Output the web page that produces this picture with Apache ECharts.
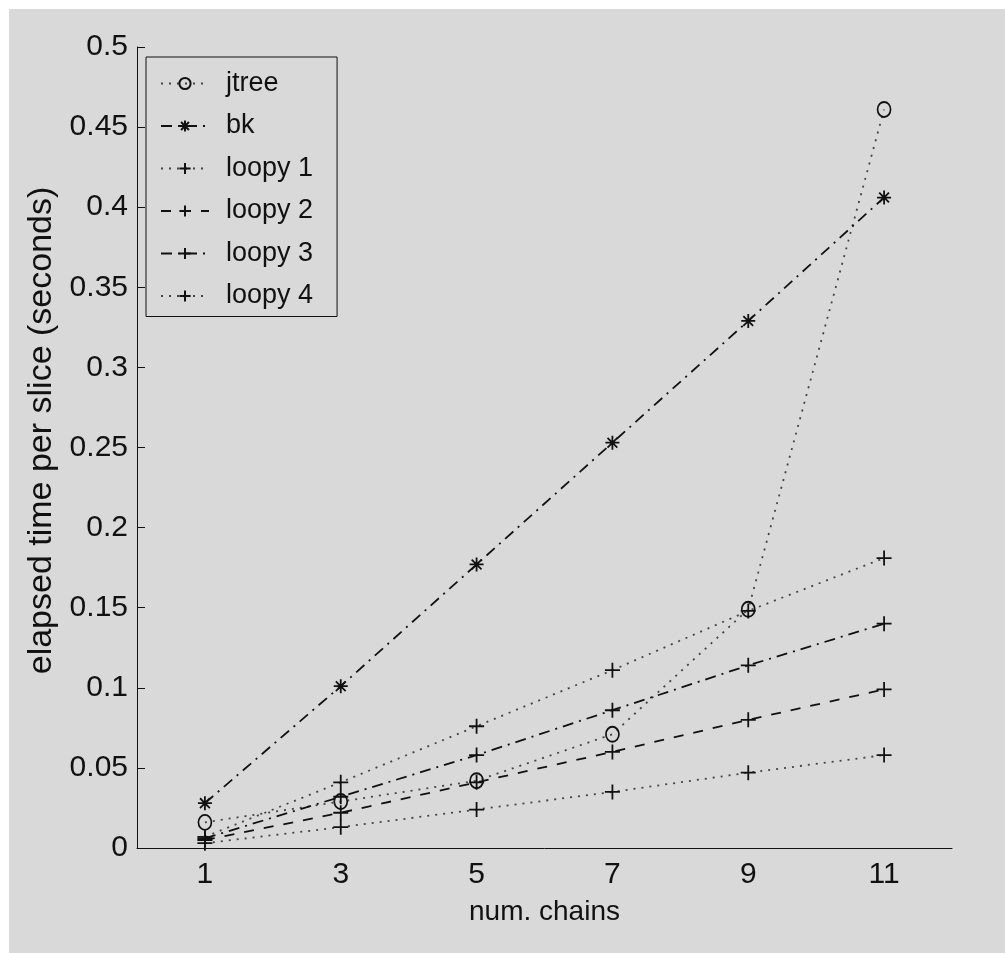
<!DOCTYPE html>
<html>
<head>
<meta charset="utf-8">
<script src="https://cdn.jsdelivr.net/npm/echarts@6/dist/echarts.min.js"></script>
<style>
  html, body { margin: 0; padding: 0; background: #fff; }
  #chart { position: absolute; left: 9px; top: 9px; width: 996px; height: 944px; }
</style>
</head>
<body>
<div id="chart"></div>
<script>
const chains = ['1', '3', '5', '7', '9', '11']
const jtree = [0.016, 0.029, 0.042, 0.071, 0.149, 0.461]
const bk = [0.028, 0.101, 0.177, 0.253, 0.329, 0.406]
const loopy1 = [0.007, 0.041, 0.076, 0.111, 0.148, 0.181]
const loopy2 = [0.005, 0.022, 0.041, 0.060, 0.080, 0.099]
const loopy3 = [0.006, 0.032, 0.058, 0.086, 0.114, 0.140]
const loopy4 = [0.003, 0.013, 0.024, 0.035, 0.047, 0.058]

const font = "'Liberation Sans', Arial, sans-serif"
const ink = '#111'
const dotted = [2, 6]
const dashed = [10, 10]
const dashDot = [11, 6, 2, 6]

const plus = 'path://M5,0L5,10M0,5L10,5'
const star = 'path://M5,0L5,10M0,5L10,5M1.5,1.5L8.5,8.5M8.5,1.5L1.5,8.5'

const line = (name, data, dash, symbol, size, lineColor) => ({
  name,
  type: 'line',
  data,
  symbol,
  symbolSize: size,
  lineStyle: { color: lineColor || ink, width: 1.8, type: dash },
  itemStyle: { color: 'none', borderColor: ink, borderWidth: 1.8 },
  emphasis: { disabled: true },
  animation: false
})

const chart = echarts.init(document.getElementById('chart'))
chart.setOption({
  backgroundColor: '#d9d9d9',
  textStyle: { fontFamily: font },
  grid: { left: 128, right: 53, top: 38, bottom: 105 },
  legend: {
    orient: 'vertical',
    left: 137,
    top: 48,
    padding: [13, 24, 7, 14],
    itemGap: 15.5,
    itemWidth: 48,
    itemHeight: 14,
    borderColor: ink,
    borderWidth: 1,
    textStyle: { color: ink, fontSize: 27, fontFamily: font, padding: [0, 0, 0, 12] },
    data: ['jtree', 'bk', 'loopy 1', 'loopy 2', 'loopy 3', 'loopy 4']
  },
  xAxis: {
    type: 'category',
    data: chains,
    boundaryGap: true,
    name: 'num. chains',
    nameLocation: 'middle',
    nameGap: 50,
    nameTextStyle: { color: ink, fontSize: 28, fontFamily: font },
    axisLine: { lineStyle: { color: ink, width: 1 } },
    axisTick: { inside: true, length: 8, alignWithLabel: true, lineStyle: { color: ink } },
    axisLabel: { color: ink, fontSize: 30, margin: 12, fontFamily: font },
    splitLine: { show: false }
  },
  yAxis: {
    type: 'value',
    min: 0,
    max: 0.5,
    interval: 0.05,
    name: 'elapsed time per slice (seconds)',
    nameLocation: 'middle',
    nameGap: 55,
    nameTextStyle: { color: ink, fontSize: 34, fontFamily: font, padding: [0, 0, 0, 34] },
    axisLine: { show: true, lineStyle: { color: ink, width: 1 } },
    axisTick: { show: true, inside: true, length: 8, lineStyle: { color: ink } },
    axisLabel: { color: ink, fontSize: 30, margin: 9, fontFamily: font },
    splitLine: { show: false }
  },
  series: [
    line('jtree', jtree, dotted, 'circle', [13, 15], '#444'),
    line('bk', bk, dashDot, star, 14),
    line('loopy 1', loopy1, dotted, plus, 15, '#444'),
    line('loopy 2', loopy2, dashed, plus, 15),
    line('loopy 3', loopy3, dashDot, plus, 15),
    line('loopy 4', loopy4, dotted, plus, 15, '#444')
  ]
})
</script>
</body>
</html>
